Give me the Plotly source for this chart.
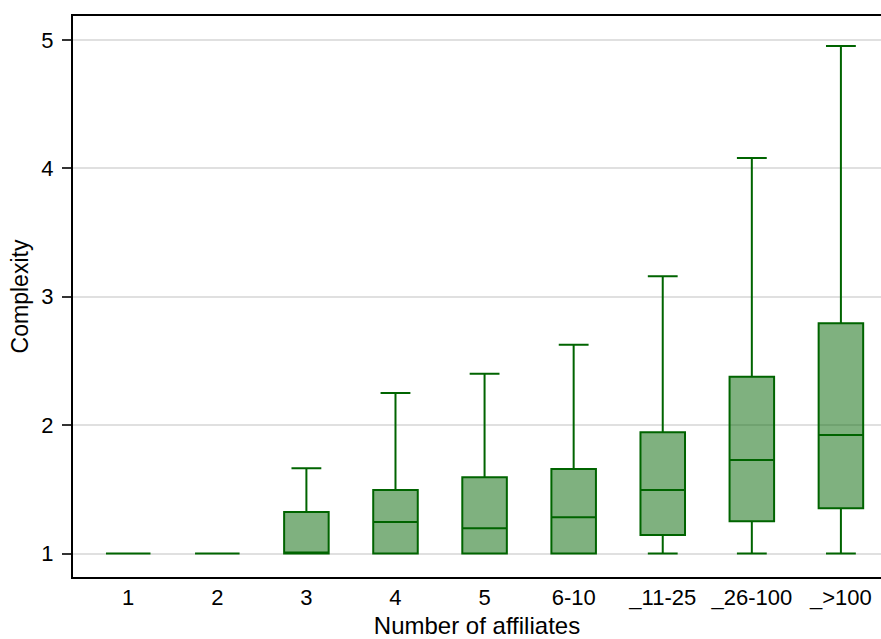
import plotly.graph_objects as go

# Complexity by number of affiliates: box summary statistics
groups = ["1", "2", "3", "4", "5", "6-10", "_11-25", "_26-100", "_>100"]
lower_whisker = [1.0, 1.0, 1.0, 1.0, 1.0, 1.0, 1.0, 1.0, 1.0]
q1 = [1.0, 1.0, 1.0, 1.0, 1.0, 1.0, 1.145, 1.252, 1.353]
median = [1.0, 1.0, 1.0, 1.246, 1.197, 1.283, 1.494, 1.728, 1.923]
q3 = [1.0, 1.0, 1.324, 1.494, 1.593, 1.658, 1.944, 2.377, 2.794]
upper_whisker = [1.0, 1.0, 1.663, 2.25, 2.40, 2.625, 3.16, 4.08, 4.953]
y_ticks = [1, 2, 3, 4, 5]

LINE = "#006400"
FILL = "rgba(0,100,0,0.5)"
FONT = "Arial, Liberation Sans, Helvetica, sans-serif"

fig = go.Figure(
    go.Box(
        x=groups,
        q1=q1,
        median=median,
        q3=q3,
        lowerfence=lower_whisker,
        upperfence=upper_whisker,
        width=0.5,
        whiskerwidth=0.67,
        fillcolor=FILL,
        line=dict(color=LINE, width=2),
        boxpoints=False,
        hoverinfo="skip",
    )
)

fig.update_layout(
    width=881,
    height=639,
    margin=dict(l=73, r=0, t=16, b=62),
    paper_bgcolor="white",
    plot_bgcolor="white",
    showlegend=False,
    font=dict(family=FONT, size=21, color="black"),
    xaxis=dict(
        type="category",
        range=[-0.62, 8.45],
        showgrid=False,
        showline=True,
        linecolor="black",
        linewidth=2,
        mirror=True,
        ticks="",
        ticklabelstandoff=0,
        tickfont=dict(size=22),
        title=dict(text="Number of affiliates", font=dict(size=24), standoff=8),
        zeroline=False,
    ),
    yaxis=dict(
        range=[0.817, 5.186],
        tickvals=y_ticks,
        ticktext=[str(v) for v in y_ticks],
        showgrid=True,
        gridcolor="#e0e0e0",
        gridwidth=2,
        showline=True,
        linecolor="black",
        linewidth=2,
        ticks="outside",
        ticklen=9,
        tickwidth=1.5,
        tickcolor="#333333",
        ticklabelstandoff=4,
        tickfont=dict(size=22),
        title=dict(text="Complexity", font=dict(size=23), standoff=6),
        zeroline=False,
    ),
)

fig.write_html("out.html")
